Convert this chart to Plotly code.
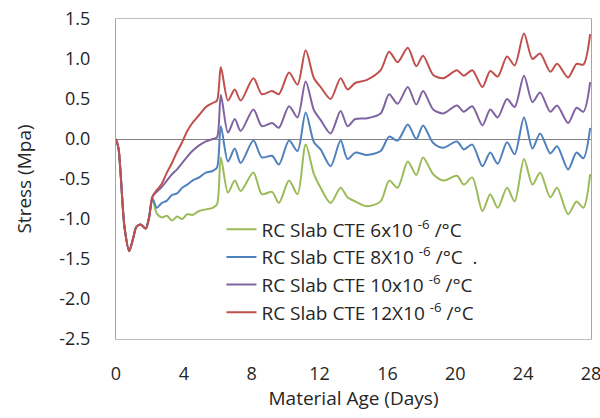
import plotly.graph_objects as go

days = [0, 0.15, 0.5, 0.78, 1.0, 1.2, 1.45, 1.75, 1.95, 2.15, 2.4, 2.7, 3.0, 3.3, 3.6, 3.9,
        4.2, 4.5, 4.9, 5.3, 5.7, 5.95, 6.18, 6.6, 7.0, 7.35, 8.1, 8.6, 9.2, 9.6, 10.2, 10.7,
        11.18, 11.67, 12.06, 12.65, 13.24, 13.65, 14.1, 14.8, 15.6, 16.1, 16.6, 17.2, 17.7,
        18.1, 18.7, 19.3, 20.1, 20.5, 21.0, 21.6, 22.06, 22.5, 23.05, 23.5, 24.05, 24.55,
        25.0, 25.6, 26.0, 26.65, 27.15, 27.55, 27.95]

cte6 = [0, -0.12, -1.1, -1.4, -1.25, -1.1, -1.07, -1.12, -0.98, -0.75, -0.93, -0.98, -0.96,
        -1.02, -0.97, -1.0, -0.94, -0.95, -0.9, -0.88, -0.86, -0.82, -0.23, -0.67, -0.52,
        -0.65, -0.42, -0.69, -0.66, -0.8, -0.52, -0.69, -0.07, -0.44, -0.61, -0.8, -0.61,
        -0.73, -0.78, -0.84, -0.78, -0.52, -0.61, -0.28, -0.45, -0.23, -0.44, -0.52, -0.46,
        -0.57, -0.48, -0.9, -0.69, -0.86, -0.61, -0.78, -0.25, -0.57, -0.42, -0.73, -0.61,
        -0.94, -0.78, -0.86, -0.44]

cte8 = [0, -0.12, -1.1, -1.4, -1.25, -1.1, -1.07, -1.12, -0.98, -0.74, -0.86, -0.8, -0.77,
        -0.7, -0.68, -0.61, -0.57, -0.52, -0.48, -0.42, -0.4, -0.36, 0.16, -0.28, -0.12,
        -0.3, -0.02, -0.23, -0.21, -0.32, -0.02, -0.15, 0.33, -0.04, -0.13, -0.34, -0.02,
        -0.25, -0.17, -0.2, -0.15, 0.03, -0.02, 0.18, 0.0, 0.17, -0.05, -0.11, -0.03,
        -0.13, -0.07, -0.34, -0.17, -0.31, -0.04, -0.19, 0.27, -0.12, 0.07, -0.18, -0.09,
        -0.38, -0.17, -0.24, 0.14]

cte10 = [0, -0.12, -1.1, -1.4, -1.25, -1.1, -1.07, -1.12, -0.98, -0.72, -0.66, -0.6, -0.52,
         -0.44, -0.38, -0.3, -0.22, -0.15, -0.08, -0.03, 0.0, 0.02, 0.55, 0.08, 0.25,
         0.1, 0.37, 0.16, 0.2, 0.14, 0.41, 0.27, 0.72, 0.36, 0.24, 0.07, 0.35,
         0.16, 0.25, 0.26, 0.32, 0.56, 0.44, 0.65, 0.43, 0.6, 0.37, 0.32, 0.42,
         0.34, 0.41, 0.17, 0.37, 0.27, 0.5, 0.4, 0.79, 0.46, 0.58, 0.34, 0.42,
         0.2, 0.39, 0.34, 0.71]

cte12 = [0, -0.12, -1.1, -1.4, -1.25, -1.1, -1.07, -1.12, -0.98, -0.72, -0.64, -0.56, -0.42,
         -0.3, -0.16, -0.04, 0.1, 0.2, 0.3, 0.4, 0.45, 0.48, 0.9, 0.48, 0.62,
         0.48, 0.76, 0.56, 0.6, 0.56, 0.83, 0.68, 1.11, 0.76, 0.65, 0.5, 0.76,
         0.62, 0.7, 0.74, 0.86, 1.09, 0.96, 1.14, 0.91, 1.04, 0.8, 0.76, 0.86,
         0.79, 0.86, 0.65, 0.85, 0.78, 1.03, 0.92, 1.32, 1.0, 1.07, 0.84, 0.94,
         0.77, 0.94, 0.93, 1.31]

names = ["RC Slab CTE 6x10 <sup>-6</sup> /°C",
         "RC Slab CTE 8X10 <sup>-6</sup> /°C\u00a0\u00a0.",
         "RC Slab CTE 10x10 <sup>-6</sup> /°C",
         "RC Slab CTE 12X10 <sup>-6</sup> /°C"]
colors = ["#9BBB59", "#4F81BD", "#8064A2", "#C0504D"]
series = [cte6, cte8, cte10, cte12]

x_ticks = [0, 4, 8, 12, 16, 20, 24, 28]
y_ticks = [1.5, 1.0, 0.5, 0.0, -0.5, -1.0, -1.5, -2.0, -2.5]

fig = go.Figure()
for i, (name, col, vals) in enumerate(zip(names, colors, series)):
    fig.add_trace(go.Scatter(x=days, y=vals, mode="lines", name=name,
                             line=dict(color=col, width=2, shape="spline", smoothing=0.8),
                             legendgroup=str(i)))

font_family = "Open Sans, Lato, sans-serif"
fig.update_layout(
    width=600, height=418,
    margin=dict(l=116, r=9, t=19, b=79, autoexpand=False),
    paper_bgcolor="white", plot_bgcolor="white",
    font=dict(family=font_family, size=18, color="#262626"),
    showlegend=True,
    legend=dict(x=0.222, y=0.402, xanchor="left", yanchor="top",
                bgcolor="rgba(255,255,255,0)", font=dict(size=19, color="#262626"),
                tracegroupgap=9, traceorder="normal"),
    xaxis=dict(range=[0, 28], tickvals=x_ticks, ticktext=[str(v) for v in x_ticks],
               showgrid=False, zeroline=False, showline=True, mirror=True,
               linecolor="#BFBFBF", linewidth=1, ticks="", automargin=False,
               ticklabelstandoff=18, ticklabeloverflow="allow",
               title=dict(text="Material Age (Days)", standoff=7, font=dict(size=19)),
               tickfont=dict(size=18)),
    yaxis=dict(range=[-2.5, 1.5], tickvals=y_ticks,
               ticktext=["%.1f" % v for v in y_ticks],
               showgrid=False, zeroline=True, zerolinecolor="#808080", zerolinewidth=1,
               showline=True, mirror=True, linecolor="#A6A6A6", linewidth=1, ticks="",
               ticklabelstandoff=21, automargin=False,
               title=dict(text="Stress (Mpa)", standoff=22, font=dict(size=19)),
               tickfont=dict(size=18)),
)

fig.write_html("out.html", post_script="document.body.style.margin='0';",
               config={"displayModeBar": False})
